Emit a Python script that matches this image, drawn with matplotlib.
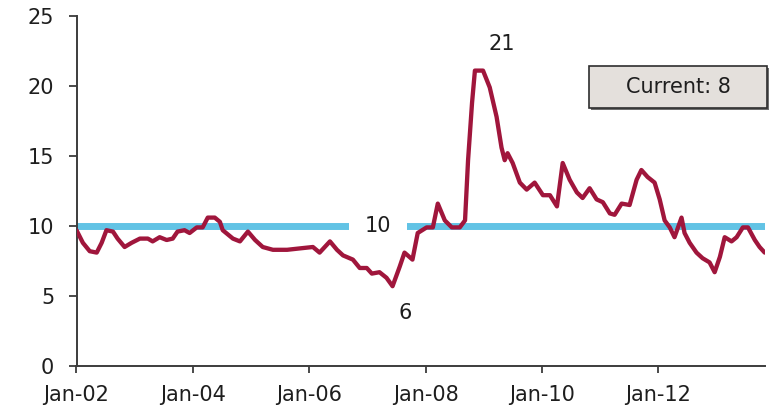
import matplotlib
matplotlib.use("Agg")
import matplotlib.pyplot as plt
import matplotlib.dates as mdates
from matplotlib.patches import Rectangle
import pandas as pd

# weekly readings, thinned out
dates = [
    "2002-01-01", "2002-02-10", "2002-03-25", "2002-05-08", "2002-06-08", "2002-07-08",
    "2002-08-18", "2002-09-16", "2002-10-30", "2002-12-13", "2003-02-03", "2003-03-25",
    "2003-04-24", "2003-06-07", "2003-07-21", "2003-08-28", "2003-09-27", "2003-11-10",
    "2003-12-12", "2004-01-26", "2004-03-03", "2004-04-04", "2004-05-18", "2004-06-19",
    "2004-07-07", "2004-09-09", "2004-10-23", "2004-12-12", "2005-01-26", "2005-03-15",
    "2005-05-18", "2005-08-15", "2005-11-03", "2006-01-24", "2006-03-07", "2006-05-11",
    "2006-06-24", "2006-08-01", "2006-10-02", "2006-11-14", "2006-12-28", "2007-01-29",
    "2007-03-18", "2007-05-01", "2007-06-08", "2007-07-23", "2007-08-22", "2007-10-11",
    "2007-11-13", "2008-01-08", "2008-02-16", "2008-03-18", "2008-05-01", "2008-06-14",
    "2008-08-03", "2008-09-05", "2008-09-24", "2008-10-19", "2008-11-06", "2008-12-27",
    "2009-02-07", "2009-03-22", "2009-04-22", "2009-05-12", "2009-05-30", "2009-07-01",
    "2009-08-15", "2009-09-27", "2009-11-16", "2010-01-07", "2010-02-20", "2010-04-05",
    "2010-05-11", "2010-06-24", "2010-08-08", "2010-09-13", "2010-10-27", "2010-12-10",
    "2011-01-18", "2011-03-03", "2011-04-02", "2011-05-16", "2011-07-05", "2011-08-18",
    "2011-09-17", "2011-10-26", "2011-12-09", "2012-01-10", "2012-02-10", "2012-03-13",
    "2012-04-12", "2012-05-26", "2012-06-14", "2012-07-16", "2012-08-28", "2012-10-05",
    "2012-11-18", "2012-12-20", "2013-01-22", "2013-02-21", "2013-04-05", "2013-05-07",
    "2013-06-15", "2013-07-17", "2013-08-29", "2013-09-28", "2013-10-30",
]
values = [
    9.7, 8.8, 8.2, 8.1, 8.8, 9.7,
    9.6, 9.1, 8.5, 8.8, 9.1, 9.1,
    8.9, 9.2, 9.0, 9.1, 9.6, 9.7,
    9.5, 9.9, 9.9, 10.6, 10.6, 10.3,
    9.7, 9.1, 8.9, 9.6, 9.0, 8.5,
    8.3, 8.3, 8.4, 8.5, 8.1, 8.9,
    8.3, 7.9, 7.6, 7.0, 7.0, 6.6,
    6.7, 6.3, 5.7, 7.1, 8.1, 7.6,
    9.5, 9.9, 9.9, 11.6, 10.4, 9.9,
    9.9, 10.4, 14.7, 18.8, 21.1, 21.1,
    19.9, 17.8, 15.6, 14.7, 15.2, 14.5,
    13.1, 12.6, 13.1, 12.2, 12.2, 11.4,
    14.5, 13.3, 12.4, 12.0, 12.7, 11.9,
    11.7, 10.9, 10.8, 11.6, 11.5, 13.3,
    14.0, 13.5, 13.1, 11.9, 10.4, 9.9,
    9.2, 10.6, 9.5, 8.8, 8.1, 7.7,
    7.4, 6.7, 7.8, 9.2, 8.9, 9.2,
    9.9, 9.9, 9.0, 8.5, 8.1,
]
average = 10

s = pd.Series(values, index=pd.to_datetime(dates))
peak_date, peak = s.idxmax(), s.max()
low_date, low = s.idxmin(), s.min()
current = s.iloc[-1]

plt.rcParams["font.family"] = ["DejaVu Sans"]
txt = "#1e1e1e"
axis_col = "#3c3c3c"

fig = plt.figure(figsize=(7.69, 4.09), dpi=100)
ax = fig.add_axes([76.5 / 769, 43 / 409, 688.5 / 769, 350 / 409])

# long-run average with a gap for its label
ax.axhline(average, color="#62C3E5", lw=5, zorder=1)
ax.text(pd.Timestamp("2007-03-10"), average, f"{average}", fontsize=15, color=txt,
        ha="center", va="center", zorder=2,
        bbox=dict(fc="white", ec="none", boxstyle="square,pad=0.75"))

ax.plot(s.index, s.values, color="#A0163C", lw=3.1, zorder=3,
        solid_joinstyle="round", solid_capstyle="round")

ax.annotate(f"{peak:.0f}", (peak_date, peak), xytext=(19, 12), textcoords="offset points",
            fontsize=15, color=txt, ha="center", va="bottom")
ax.annotate(f"{low:.0f}", (low_date, low), xytext=(9, -12), textcoords="offset points",
            fontsize=15, color=txt, ha="center", va="top")

ax.set_xlim(pd.Timestamp("2002-01-01"), pd.Timestamp("2013-11-01"))
ax.set_ylim(0, 25)
ax.set_yticks(range(0, 26, 5))
ax.xaxis.set_major_locator(mdates.YearLocator(2))
ax.xaxis.set_major_formatter(mdates.DateFormatter("%b-%y"))

for side in ("top", "right"):
    ax.spines[side].set_visible(False)
for side in ("left", "bottom"):
    ax.spines[side].set_color(axis_col)
    ax.spines[side].set_linewidth(1.4)
ax.tick_params(axis="y", length=6, width=1.3, color=axis_col, pad=10,
               labelsize=15, labelcolor=txt)
ax.tick_params(axis="x", length=5, width=1.3, color=axis_col, pad=9,
               labelsize=15, labelcolor=txt)

# "Current" box with a drop shadow
bx, by, bw, bh = 589 / 769, 301 / 409, 178 / 769, 42 / 409
fig.patches.append(Rectangle((bx + 2 / 769, by - 2 / 409), bw, bh, transform=fig.transFigure,
                             fc="#6e6e6e", ec="none", zorder=1))
fig.patches.append(Rectangle((bx, by), bw, bh, transform=fig.transFigure,
                             fc="#E4E0DC", ec="#2e2e2e", lw=1.2, zorder=2))
fig.text(bx + bw / 2, by + bh / 2, f"Current: {current:.0f}", fontsize=15, color=txt,
         ha="center", va="center", zorder=3)

fig.savefig("out.png", dpi=100)
